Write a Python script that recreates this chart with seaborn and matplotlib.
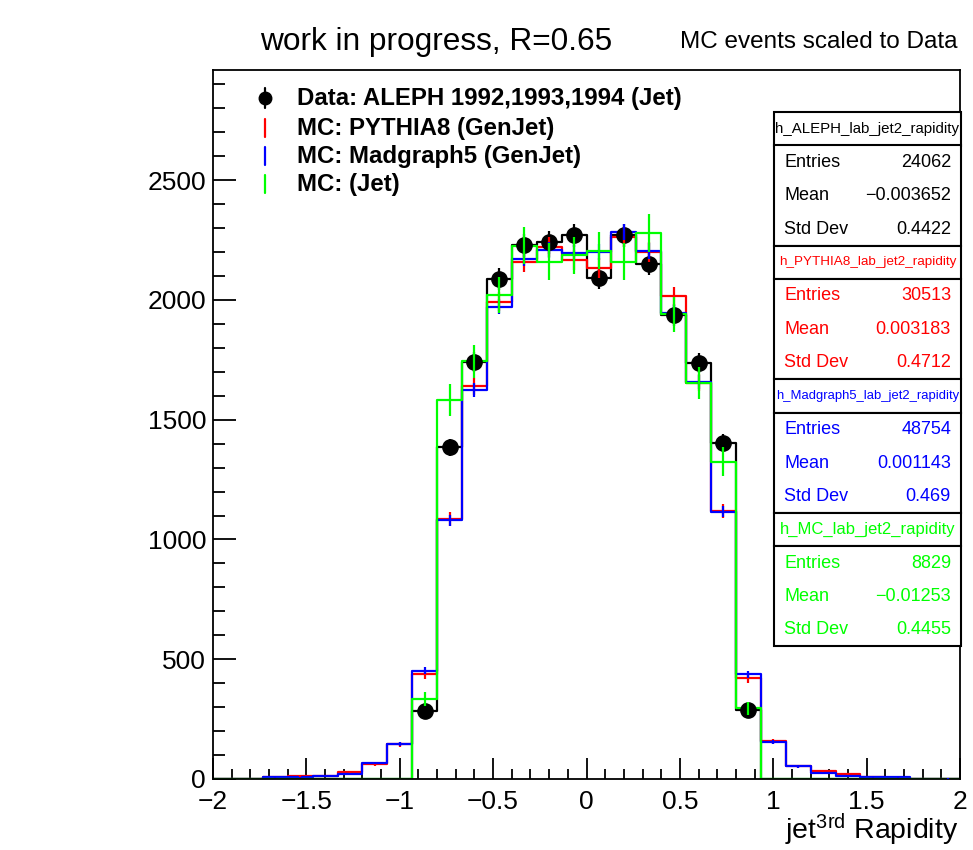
import numpy as np
import pandas as pd
import seaborn as sns
import matplotlib
matplotlib.use("Agg")
import matplotlib.pyplot as plt
from matplotlib.patches import Rectangle
from matplotlib.lines import Line2D
from matplotlib.ticker import MultipleLocator, FixedLocator

# ---- binning: 30 bins in jet rapidity from -2 to 2 ----
n_bins = 30
x_range = (-2.0, 2.0)
bin_edges = np.linspace(x_range[0], x_range[1], n_bins + 1)
bin_centers = 0.5 * (bin_edges[:-1] + bin_edges[1:])

# ---- bin contents (MC scaled to data) ----
aleph_counts = [0, 0, 0, 0, 0, 0, 0, 0, 285, 1384, 1742, 2086, 2228, 2240, 2270,
                2092, 2270, 2150, 1937, 1735, 1402, 290, 0, 0, 0, 0, 0, 0, 0, 0]
pythia_counts = [0, 0, 7, 12, 14, 28, 62, 145, 437, 1085, 1640, 1992, 2159, 2222, 2166,
                 2134, 2264, 2199, 2016, 1655, 1120, 420, 157, 53, 33, 21, 7, 5, 0, 0]
madgraph_counts = [0, 0, 7, 7, 14, 22, 67, 147, 452, 1081, 1624, 1971, 2173, 2208, 2197,
                   2200, 2285, 2204, 1946, 1658, 1116, 437, 156, 53, 25, 14, 7, 7, 0, 2]
mcjet_counts = [0, 0, 0, 0, 0, 0, 0, 0, 335, 1582, 1745, 2020, 2226, 2159, 2187,
                2205, 2159, 2278, 1940, 1652, 1325, 295, 0, 0, 0, 0, 0, 0, 0, 0]

# ---- statistics boxes ----
stat_titles = ["h_ALEPH_lab_jet2_rapidity", "h_PYTHIA8_lab_jet2_rapidity",
               "h_Madgraph5_lab_jet2_rapidity", "h_MC_lab_jet2_rapidity"]
stat_entries = [24062, 30513, 48754, 8829]
stat_means = ["\u22120.003652", "0.003183", "0.001143", "\u22120.01253"]
stat_stds = ["0.4422", "0.4712", "0.469", "0.4455"]

legend_labels = ["Data: ALEPH 1992,1993,1994 (Jet)", "MC: PYTHIA8 (GenJet)",
                 "MC: Madgraph5 (GenJet)", "MC: (Jet)"]
x_ticks = [-2, -1.5, -1, -0.5, 0, 0.5, 1, 1.5, 2]
x_tick_labels = ["\u22122", "\u22121.5", "\u22121", "\u22120.5", "0", "0.5", "1", "1.5", "2"]
y_ticks = [0, 500, 1000, 1500, 2000, 2500]

RED, BLUE, GREEN, BLACK = "#ff0000", "#0000ff", "#00ff00", "#000000"
colors = [BLACK, RED, BLUE, GREEN]
all_counts = [aleph_counts, pythia_counts, madgraph_counts, mcjet_counts]

sns.set_theme(style="ticks")
plt.rcParams["font.family"] = ["Liberation Sans", "DejaVu Sans"]
plt.rcParams.update({
    "axes.linewidth": 1.3,
    "text.color": "black",
    "axes.labelcolor": "black",
    "xtick.color": "black",
    "ytick.color": "black",
    "mathtext.fontset": "custom",
    "mathtext.rm": "Liberation Sans",
    "mathtext.it": "Liberation Sans:italic",
})

W, H = 973, 850
fig = plt.figure(figsize=(W / 100, H / 100), dpi=100)
fig.patch.set_facecolor("white")


def fx(px):
    return px / W


def fy(py):
    return 1 - py / H


ax = fig.add_axes([fx(213), fy(779), fx(960) - fx(213), fy(70) - fy(779)])
ax.set_facecolor("white")

data_entries = stat_entries[0]
for i, (counts, col) in enumerate(zip(all_counts, colors)):
    counts = np.asarray(counts, dtype=float)
    frame = pd.DataFrame({"rapidity": bin_centers, "events": counts})
    sns.histplot(data=frame, x="rapidity", weights="events", bins=n_bins,
                 binrange=x_range, element="step", fill=False, color=col,
                 linewidth=1.6, ax=ax)
    # Poisson errors, with MC weighted by the scale factor to data
    scale = data_entries / stat_entries[i]
    err = np.sqrt(counts * scale)
    m = counts > 0
    if i == 0:
        ax.errorbar(bin_centers[m], counts[m], yerr=err[m], fmt="o", color=col,
                    markersize=11, elinewidth=1.6, capsize=0, zorder=4)
    else:
        ax.errorbar(bin_centers[m], counts[m], yerr=err[m], fmt="none", ecolor=col,
                    elinewidth=1.6, capsize=0, zorder=5)

ax.set_xlim(-2, 2)
ax.set_ylim(0, 2960)
ax.set_xlabel("")
ax.set_ylabel("")
ax.xaxis.set_major_locator(FixedLocator(x_ticks))
ax.set_xticklabels(x_tick_labels)
ax.xaxis.set_minor_locator(MultipleLocator(0.1))
ax.yaxis.set_major_locator(FixedLocator(y_ticks))
ax.yaxis.set_minor_locator(MultipleLocator(100))
ax.tick_params(axis="x", which="major", direction="in", length=15, width=1.3,
               labelsize=19, pad=8, top=False, labelcolor="black")
ax.tick_params(axis="x", which="minor", direction="in", length=7, width=1.3, top=False)
ax.tick_params(axis="y", which="major", direction="in", length=16.5, width=1.3,
               labelsize=19, pad=5, right=False, labelcolor="black")
ax.tick_params(axis="y", which="minor", direction="in", length=8.5, width=1.3, right=False)
for sp in ax.spines.values():
    sp.set_visible(True)
    sp.set_color("black")

# ---- titles ----
fig.text(fx(260), fy(42), "work in progress, R=0.65", fontsize=22.8, ha="left", va="center")
fig.text(fx(680), fy(42), "MC events scaled to Data", fontsize=17.5, ha="left", va="center")
fig.text(fx(958), fy(830), r"jet$^{\mathrm{3rd}}$ Rapidity", fontsize=20.5, ha="right",
         va="center")

# ---- legend ----
leg_rows = [98, 128, 156, 184]
for lab, col, yrow in zip(legend_labels, colors, leg_rows):
    if col == BLACK:
        fig.add_artist(Line2D([fx(265), fx(265)], [fy(yrow - 10), fy(yrow + 10)],
                              color=col, lw=1.6, transform=fig.transFigure))
        fig.add_artist(Line2D([fx(265)], [fy(yrow)], marker="o", markersize=9,
                              color=col, transform=fig.transFigure))
    else:
        fig.add_artist(Line2D([fx(265), fx(265)], [fy(yrow - 9), fy(yrow + 9)],
                              color=col, lw=1.6, transform=fig.transFigure))
    fig.text(fx(297), fy(yrow), lab, fontsize=17.3, fontweight="bold", ha="left",
             va="center")

# ---- statistics boxes ----
box_left, box_right = 774, 961
title_h, body_h = 33.5, 100
title_sizes = [10.8, 9.7, 9.4, 12.0]
for k in range(4):
    top = 112 + k * (title_h + body_h)
    col = colors[k]
    fig.add_artist(Rectangle((fx(box_left), fy(top + title_h)), fx(box_right) - fx(box_left),
                             fy(top) - fy(top + title_h), transform=fig.transFigure,
                             facecolor="white", edgecolor="black", lw=1.5, zorder=10))
    fig.add_artist(Rectangle((fx(box_left), fy(top + title_h + body_h)),
                             fx(box_right) - fx(box_left),
                             fy(top + title_h) - fy(top + title_h + body_h),
                             transform=fig.transFigure, facecolor="white",
                             edgecolor="black", lw=1.5, zorder=10))
    fig.text(fx((box_left + box_right) / 2), fy(top + title_h / 2), stat_titles[k],
             fontsize=title_sizes[k], color=col, ha="center", va="center", zorder=11)
    rows = [("Entries", str(stat_entries[k])), ("Mean", stat_means[k]),
            ("Std Dev", stat_stds[k])]
    for j, (name, val) in enumerate(rows):
        yrow = top + title_h + 17 + j * 33.5
        fig.text(fx(784), fy(yrow), name, fontsize=13, color=col, ha="left",
                 va="center", zorder=11)
        fig.text(fx(951), fy(yrow), val, fontsize=13, color=col, ha="right",
                 va="center", zorder=11)

fig.savefig("out.png", dpi=100, facecolor="white")
